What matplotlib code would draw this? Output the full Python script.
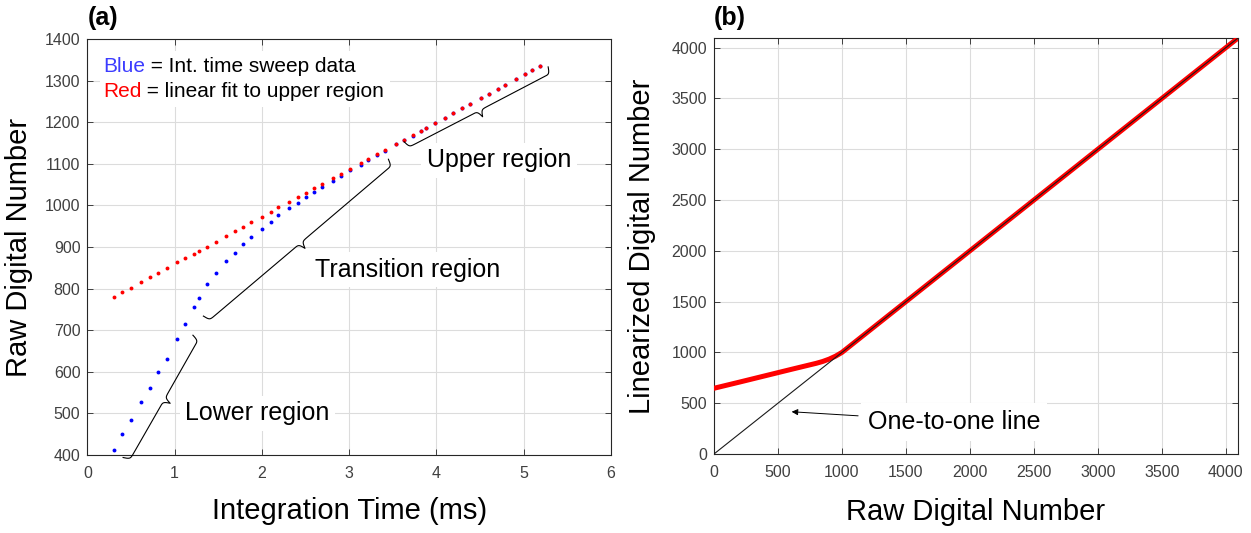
import numpy as np
import matplotlib
matplotlib.use("Agg")
import matplotlib.pyplot as plt

plt.rcParams['font.family'] = ['Liberation Sans', 'DejaVu Sans']

# ---- panel (a): integration time sweep ----
int_time = [0.31, 0.40, 0.50, 0.62, 0.72, 0.81, 0.91, 1.03, 1.12, 1.22,
            1.28, 1.37, 1.47, 1.59, 1.69, 1.78, 1.88, 2.00, 2.10, 2.19,
            2.31, 2.41, 2.50, 2.60, 2.69, 2.81, 2.91, 3.01, 3.13, 3.22,
            3.32, 3.41, 3.54, 3.63, 3.73, 3.82, 3.88, 3.98, 4.10, 4.19,
            4.29, 4.38, 4.51, 4.60, 4.70, 4.79, 4.91, 5.01, 5.10, 5.19]
sweep_dn = [411, 451, 485, 527, 561, 599, 632, 678, 716, 756,
            778, 810, 837, 866, 886, 907, 924, 944, 960, 977,
            994, 1007, 1021, 1033, 1044, 1059, 1071, 1084, 1098, 1110,
            1122, 1132, 1147, 1157, 1168, 1179, 1186, 1197, 1211, 1221,
            1233, 1243, 1258, 1268, 1279, 1290, 1303, 1315, 1325, 1335]
fit_dn = [781, 791, 802, 816, 827, 838, 849, 863, 873, 884,
          891, 901, 913, 926, 938, 948, 959, 973, 984, 995,
          1008, 1020, 1030, 1041, 1051, 1065, 1076, 1088, 1101, 1112,
          1123, 1133, 1148, 1158, 1169, 1180, 1186, 1198, 1211, 1222,
          1233, 1243, 1258, 1268, 1280, 1290, 1303, 1315, 1325, 1335]

# brace end points (data coords) and labels
braces = [((0.41, 394), (1.21, 688)),
          ((1.33, 734), (3.45, 1111)),
          ((3.63, 1153), (5.28, 1333))]
region_labels = [("Lower region", 1.12, 501),
                 ("Transition region", 2.61, 845),
                 ("Upper region", 3.89, 1109)]
legend_lines = [("Blue", '#3c3cff', " = Int. time sweep data"),
                ("Red", '#ff0000', " = linear fit to upper region")]

# ---- panel (b): linearization ----
raw_dn = [0, 200, 400, 600, 800, 850, 900, 950, 1000, 1050, 1100, 2000, 3000, 4095]
lin_dn = [647, 708, 770, 832, 893, 911, 934, 963, 1000, 1050, 1100, 2000, 3000, 4095]
one_to_one = [0, 4095]

GRID = '#dcdcdc'
AX = '#262626'


def style(ax):
    ax.grid(True, color=GRID, lw=0.8)
    ax.set_axisbelow(True)
    for s in ax.spines.values():
        s.set_color(AX)
        s.set_linewidth(0.8)
    ax.tick_params(direction='in', top=True, right=True, length=4,
                   width=0.6, colors=AX, labelsize=11.5, labelcolor='#404040')
    ax.tick_params(axis='x', pad=8)
    ax.tick_params(axis='y', pad=5)


def brace(ax, p0, p1, h=14, beta=0.9):
    a = ax.transData.transform(p0)
    b = ax.transData.transform(p1)
    d = b - a
    L = np.hypot(*d)
    u = d / L
    n = np.array([u[1], -u[0]])
    s = np.linspace(0, L / 2, 200)
    half = 1 / (1 + np.exp(-beta * (s - s[0]))) + 1 / (1 + np.exp(-beta * (s - s[-1])))
    off = h * (np.concatenate([half, half[-2::-1]]) - 0.5)
    ss = np.concatenate([s, L - s[-2::-1]])
    pts = a + np.outer(ss, u) + np.outer(off, n)
    xy = ax.transData.inverted().transform(pts)
    ax.plot(xy[:, 0], xy[:, 1], color='black', lw=0.8, clip_on=False, zorder=4)


fig = plt.figure(figsize=(12.51, 5.33), dpi=100)
ax1 = fig.add_axes([0.0698, 0.1463, 0.4186, 0.7805])
ax2 = fig.add_axes([0.5707, 0.1482, 0.4189, 0.7805])

# panel (a)
style(ax1)
ax1.set_xlim(0, 6)
ax1.set_ylim(400, 1400)
ax1.set_xticks(range(0, 7))
ax1.set_yticks(range(400, 1401, 100))
ax1.plot(int_time, sweep_dn, 'o', color='#0000ff', ms=2.8, mew=0, zorder=3)
ax1.plot(int_time, fit_dn, 'o', color='#ff0000', ms=2.8, mew=0, zorder=3)

for p0, p1 in braces:
    brace(ax1, p0, p1)
for txt, x, y in region_labels:
    ax1.text(x, y, txt, fontsize=18, ha='left', va='center', zorder=2,
             bbox=dict(fc='white', ec='none', pad=4))

for i, (word, col, rest) in enumerate(legend_lines):
    y = 0.935 - i * 0.062
    tw = ax1.text(0.03, y, word, color=col, fontsize=15,
                  transform=ax1.transAxes, ha='left', va='center', zorder=2.2,
                  bbox=dict(fc='white', ec='none', pad=2))
    ax1.annotate(rest, xy=(1, 0), xycoords=tw, ha='left', va='bottom',
                 fontsize=15, color='black', zorder=2.1,
                 bbox=dict(fc='white', ec='none', pad=4))

ax1.set_xlabel("Integration Time (ms)", fontsize=21)
ax1.set_ylabel("Raw Digital Number", fontsize=21)
ax1.xaxis.set_label_coords(0.5, -0.10)
ax1.yaxis.set_label_coords(-0.104, 0.5)

# panel (b)
style(ax2)
ax2.set_xlim(0, 4095)
ax2.set_ylim(0, 4095)
ax2.set_xticks(range(0, 4001, 500))
ax2.set_yticks(range(0, 4001, 500))
ax2.plot(raw_dn, lin_dn, color='#ff0000', lw=3.6, solid_capstyle='round', zorder=3)
ax2.plot(one_to_one, one_to_one, color='#1a1a1a', lw=0.8, zorder=4)
ax2.annotate("One-to-one line", xy=(607, 416), xytext=(1203, 318),
             fontsize=18, ha='left', va='center', zorder=2,
             bbox=dict(fc='white', ec='none', pad=5),
             arrowprops=dict(arrowstyle='-|>', color='black', lw=0.7,
                             mutation_scale=9, shrinkA=2, shrinkB=0))
ax2.set_xlabel("Raw Digital Number", fontsize=21)
ax2.set_ylabel("Linearized Digital Number", fontsize=21)
ax2.xaxis.set_label_coords(0.5, -0.105)
ax2.yaxis.set_label_coords(-0.111, 0.5)

fig.text(0.0703, 0.966, "(a)", fontsize=18, fontweight='bold', va='center')
fig.text(0.5707, 0.966, "(b)", fontsize=18, fontweight='bold', va='center')

fig.savefig("out.png", dpi=100)
